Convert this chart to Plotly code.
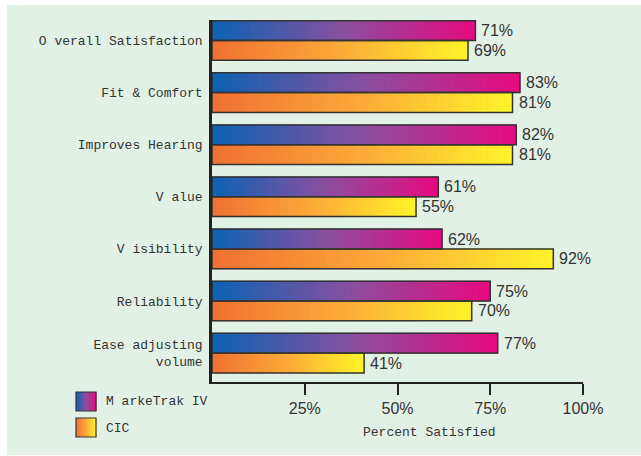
import plotly.graph_objects as go

# Survey results: percent of users satisfied, by attribute
categories = [
    "O verall Satisfaction",
    "Fit & Comfort",
    "Improves Hearing",
    "V alue",
    "V isibility",
    "Reliability",
    "Ease adjusting<br>volume",
]
marketrak = [71, 83, 82, 61, 62, 75, 77]
cic = [69, 81, 81, 55, 92, 70, 41]
series_names = ["M arkeTrak IV", "CIC"]
x_ticks = [25, 50, 75, 100]
x_ticklabels = ["25%", "50%", "75%", "100%"]

W, H = 641, 456
ML, MR, MT, MB = 212, 58, 20, 74
BAR_W = 0.38
N_SEG = 48

MONO = "Liberation Mono, Courier New, monospace"
SANS = "Liberation Sans, Arial, Helvetica, sans-serif"
TXT = "#333333"
OUTLINE = "#333333"

grad_mt = [(0.0, (11, 99, 179)), (0.5, (138, 79, 160)), (1.0, (232, 9, 127))]
grad_cic = [(0.0, (240, 112, 51)), (0.5, (251, 170, 56)), (1.0, (255, 245, 42))]


def grad_color(stops, t):
    for (t0, c0), (t1, c1) in zip(stops[:-1], stops[1:]):
        if t <= t1:
            f = (t - t0) / (t1 - t0) if t1 > t0 else 0
            rgb = [round(a + (b - a) * f) for a, b in zip(c0, c1)]
            return "rgb({},{},{})".format(*rgb)
    return "rgb({},{},{})".format(*stops[-1][1])


idx = list(range(len(categories)))
y_mt = [i - BAR_W / 2 for i in idx]
y_cic = [i + BAR_W / 2 for i in idx]

fig = go.Figure()

# Gradient fill: each bar is split into equal slices, coloured along its length
for values, ypos, stops in ((marketrak, y_mt, grad_mt), (cic, y_cic, grad_cic)):
    # solid underlay so the slice joins never show the background
    fig.add_trace(go.Bar(
        orientation="h", y=ypos, x=values, base=0, width=BAR_W,
        marker=dict(color=grad_color(stops, 0.5), line=dict(width=0)),
        showlegend=False, hoverinfo="skip",
    ))
    for k in range(N_SEG):
        c = grad_color(stops, (k + 0.5) / N_SEG)
        fig.add_trace(go.Bar(
            orientation="h",
            y=ypos,
            x=[v / N_SEG for v in values],
            base=[v * k / N_SEG for v in values],
            width=BAR_W,
            marker=dict(color=c, line=dict(width=0.8, color=c)),
            showlegend=False,
            hoverinfo="skip",
        ))

# Outlines
for values, ypos, name in ((marketrak, y_mt, series_names[0]), (cic, y_cic, series_names[1])):
    fig.add_trace(go.Bar(
        orientation="h",
        y=ypos,
        x=values,
        base=0,
        width=BAR_W,
        name=name,
        marker=dict(color="rgba(0,0,0,0)", line=dict(color=OUTLINE, width=1.5)),
        showlegend=False,
    ))

plot_w = W - ML - MR
plot_h = H - MT - MB


def px_x(p):
    return (p - ML) / plot_w


def px_y(p):
    return (H - MB - p) / plot_h


shapes = [
    # light green panel
    dict(type="rect", xref="paper", yref="paper", layer="below",
         x0=px_x(7), x1=px_x(W + 5), y0=px_y(455), y1=px_y(5),
         fillcolor="#e2f1e6", line=dict(width=0)),
]

# Legend swatches with gradient fill
legend_boxes = [((76, 96, 392, 411), grad_mt), ((76, 96, 418, 437), grad_cic)]
for (x0, x1, y0, y1), stops in legend_boxes:
    n = 20
    for k in range(n):
        shapes.append(dict(
            type="rect", xref="paper", yref="paper", layer="above",
            x0=px_x(x0 + (x1 - x0) * k / n), x1=px_x(x0 + (x1 - x0) * (k + 1) / n + 0.5),
            y0=px_y(y1), y1=px_y(y0),
            fillcolor=grad_color(stops, (k + 0.5) / n), line=dict(width=0)))
    shapes.append(dict(
        type="rect", xref="paper", yref="paper", layer="above",
        x0=px_x(x0), x1=px_x(x1), y0=px_y(y1), y1=px_y(y0),
        fillcolor="rgba(0,0,0,0)", line=dict(color=OUTLINE, width=1.2)))

annotations = [
    dict(text=series_names[0], xref="paper", yref="paper", x=px_x(104), y=px_y(401),
         xanchor="left", yanchor="middle", showarrow=False,
         font=dict(family=MONO, size=13, color=TXT)),
    dict(text=series_names[1], xref="paper", yref="paper", x=px_x(104), y=px_y(428),
         xanchor="left", yanchor="middle", showarrow=False,
         font=dict(family=MONO, size=13, color=TXT)),
    dict(text="Percent Satisfied", xref="paper", yref="paper", x=px_x(429), y=px_y(432),
         xanchor="center", yanchor="middle", showarrow=False,
         font=dict(family=MONO, size=13, color=TXT)),
]

# Value labels just past the end of each bar
for values, ypos in ((marketrak, y_mt), (cic, y_cic)):
    for v, yv in zip(values, ypos):
        annotations.append(dict(
            text=f"{v}%", x=v, y=yv, xref="x", yref="y",
            xanchor="left", yanchor="middle", xshift=4, showarrow=False,
            font=dict(family=SANS, size=16, color=TXT)))

g0 = 40.5
step = 52.1
y_top = (MT - g0) / step
y_bot = (H - MB - g0) / step

fig.update_layout(
    width=W, height=H,
    margin=dict(l=ML, r=MR, t=MT, b=MB),
    paper_bgcolor="white",
    plot_bgcolor="rgba(0,0,0,0)",
    barmode="overlay",
    showlegend=False,
    shapes=shapes,
    annotations=annotations,
    xaxis=dict(
        range=[0, 100], tickvals=x_ticks, ticktext=x_ticklabels,
        ticks="outside", ticklen=11, tickwidth=2, tickcolor="#222222",
        showline=True, linecolor="#222222", linewidth=2,
        showgrid=False, zeroline=False, fixedrange=True,
        tickfont=dict(family=SANS, size=16, color=TXT),
    ),
    yaxis=dict(
        range=[y_bot, y_top], tickvals=idx, ticktext=categories,
        ticks="", showline=True, linecolor="#222222", linewidth=2.5,
        showgrid=False, zeroline=False, fixedrange=True,
        ticklabelstandoff=4,
        tickfont=dict(family=MONO, size=13, color=TXT),
    ),
)

fig.write_html("out.html")
